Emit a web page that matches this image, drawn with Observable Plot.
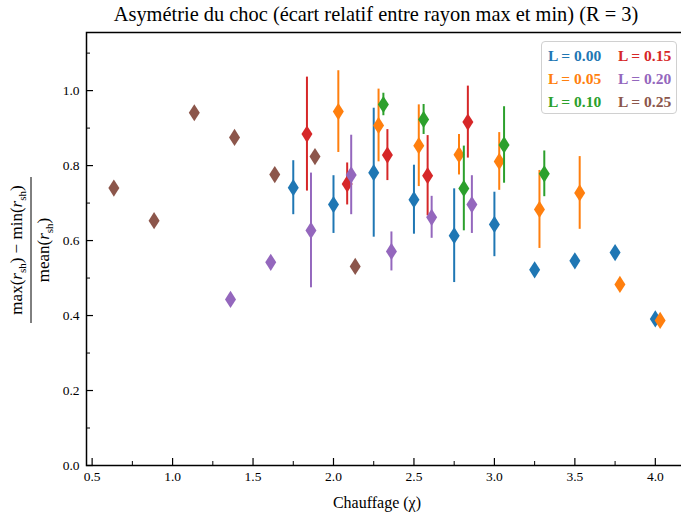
<!DOCTYPE html>
<html><head><meta charset="utf-8">
<script src="https://cdn.jsdelivr.net/npm/d3@7"></script>
<script src="https://cdn.jsdelivr.net/npm/@observablehq/plot@0.6"></script>
<style>
body{margin:0;background:#fff;}
#wrap{position:relative;width:681px;height:516px;overflow:hidden;font-family:"Liberation Serif",serif;background:#fff;}
#legend{position:absolute;left:541px;top:41px;width:136px;height:73px;border:1.5px solid #d0d0d0;border-radius:4px;background:rgba(255,255,255,0.85);
  display:grid;grid-template-columns:70px 66px;grid-template-rows:23px 23px 23px;padding:2px 0 0 0;box-sizing:border-box;}
#legend div{font-weight:bold;font-size:15.5px;line-height:23px;padding-left:6px;white-space:nowrap;}
</style></head><body><div id="wrap"></div>
<script>
// ---- data ----
const seriesLabels = ["L = 0.00","L = 0.05","L = 0.10","L = 0.15","L = 0.20","L = 0.25"];
const seriesColors = ["#1f77b4","#ff7f0e","#2ca02c","#d62728","#9467bd","#8c564b"];

const chi_L000 = [1.75, 2.00, 2.25, 2.50, 2.75, 3.00, 3.25, 3.50, 3.75, 4.00];
const val_L000 = [0.741, 0.696, 0.781, 0.709, 0.613, 0.643, 0.522, 0.546, 0.568, 0.391];
const err_L000 = [0.072, 0.077, 0.172, 0.092, 0.125, 0.086, 0, 0, 0, 0];

const chi_L005 = [2.03, 2.28, 2.53, 2.78, 3.03, 3.28, 3.53, 3.78, 4.03];
const val_L005 = [0.944, 0.907, 0.853, 0.829, 0.811, 0.683, 0.727, 0.483, 0.387];
const err_L005 = [0.109, 0.097, 0.109, 0.054, 0.077, 0.104, 0.097, 0, 0];

const chi_L010 = [2.31, 2.56, 2.81, 3.06, 3.31];
const val_L010 = [0.963, 0.923, 0.739, 0.855, 0.778];
const err_L010 = [0.03, 0.04, 0.113, 0.102, 0.061];

const chi_L015 = [1.835, 2.085, 2.335, 2.585, 2.835];
const val_L015 = [0.884, 0.751, 0.828, 0.773, 0.916];
const err_L015 = [0.152, 0.056, 0.068, 0.107, 0.096];

const chi_L020 = [1.36, 1.61, 1.86, 2.11, 2.36, 2.61, 2.86];
const val_L020 = [0.443, 0.542, 0.627, 0.775, 0.571, 0.662, 0.696];
const err_L020 = [0, 0, 0.153, 0.106, 0.052, 0.056, 0.077];

const chi_L025 = [0.635, 0.885, 1.135, 1.385, 1.635, 1.885, 2.135];
const val_L025 = [0.740, 0.653, 0.941, 0.875, 0.776, 0.824, 0.531];
const err_L025 = [0, 0, 0, 0, 0, 0, 0];

const xMajorTicks = [0.5, 1.0, 1.5, 2.0, 2.5, 3.0, 3.5, 4.0];
const xMinorTicks = [0.75, 1.25, 1.75, 2.25, 2.75, 3.25, 3.75];
const yMajorTicks = [0.0, 0.2, 0.4, 0.6, 0.8, 1.0];
const yMinorTicks = [0.1, 0.3, 0.5, 0.7, 0.9, 1.1];

const titleText = "Asymétrie du choc (écart relatif entre rayon max et min) (R = 3)";
const xLabelText = "Chauffage (χ)";

// ---- build ----
const allSeries = [
  [chi_L000, val_L000, err_L000],
  [chi_L005, val_L005, err_L005],
  [chi_L010, val_L010, err_L010],
  [chi_L015, val_L015, err_L015],
  [chi_L020, val_L020, err_L020],
  [chi_L025, val_L025, err_L025]
].map(([c, v, e], i) => c.map((chi, j) => ({s: i, chi, v: v[j], e: e[j]})));

const thinDiamond = {
  draw(ctx, size) {
    const r = Math.sqrt(size / Math.PI);
    const w = r * 0.64;
    ctx.moveTo(0, -r); ctx.lineTo(w, 0); ctx.lineTo(0, r); ctx.lineTo(-w, 0); ctx.closePath();
  }
};

const seriesMarks = allSeries.flatMap((rows, i) => [
  Plot.ruleX(rows.filter(d => d.e > 0), {x: "chi", y1: d => d.v - d.e, y2: d => d.v + d.e, stroke: seriesColors[i], strokeWidth: 2}),
  Plot.dot(rows, {x: "chi", y: "v", symbol: thinDiamond, r: 8.6, fill: seriesColors[i], stroke: "none"})
]);

const fmt = d3.format(".1f");
const chart = Plot.plot({
  width: 681, height: 516,
  marginLeft: 86, marginRight: -6, marginTop: 32, marginBottom: 51,
  x: {domain: [0.465, 4.2]},
  y: {domain: [0, 1.155]},
  style: {fontFamily: "Liberation Serif, serif", fontSize: "13.5px", background: "white", color: "black", overflow: "hidden"},
  marks: [
    ...seriesMarks,
    Plot.axisX(xMajorTicks, {tickSize: 0, tickPadding: 6, tickFormat: fmt, label: null}),
    Plot.axisX(xMajorTicks, {tickSize: -7, fill: "none", label: null, strokeWidth: 1.2}),
    Plot.axisX(xMinorTicks, {tickSize: -4, fill: "none", label: null, strokeWidth: 1}),
    Plot.axisY(yMajorTicks, {tickSize: 0, tickPadding: 7, tickFormat: fmt, label: null}),
    Plot.axisY(yMajorTicks, {tickSize: -7, fill: "none", label: null, strokeWidth: 1.2}),
    Plot.axisY(yMinorTicks, {tickSize: -4, fill: "none", label: null, strokeWidth: 1}),
    Plot.frame({stroke: "black", strokeWidth: 1.5})
  ]
});

const wrap = document.getElementById("wrap");
wrap.appendChild(chart);
const svg = d3.select(chart);

// title
svg.append("text").attr("x", 376).attr("y", 21).attr("text-anchor", "middle")
  .attr("font-family", "Liberation Serif, serif").attr("font-size", 20.4).attr("fill", "black").text(titleText);

// x label
svg.append("text").attr("x", 377).attr("y", 508).attr("text-anchor", "middle")
  .attr("font-family", "Liberation Serif, serif").attr("font-size", 16).attr("fill", "black").text(xLabelText);

// y label (fraction)
const g = svg.append("g").attr("transform", "translate(31,250) rotate(-90)")
  .attr("font-family", "Liberation Serif, serif").attr("font-size", 17).attr("fill", "black");
const num = g.append("text").attr("x", 0).attr("y", -9).attr("text-anchor", "middle");
const addR = (t) => { t.append("tspan").attr("font-style", "italic").text("r"); t.append("tspan").attr("font-size", 11).attr("dy", 4).text("sh"); t.append("tspan").attr("dy", -4).text(")"); };
num.append("tspan").text("max(");
addR(num);
num.append("tspan").text(" − min(");
addR(num);
g.append("line").attr("x1", -73).attr("x2", 73).attr("y1", 0).attr("y2", 0).attr("stroke", "black").attr("stroke-width", 1);
const den = g.append("text").attr("x", 0).attr("y", 18).attr("text-anchor", "middle");
den.append("tspan").text("mean(");
addR(den);

// legend
const leg = document.createElement("div");
leg.id = "legend";
const order = [0, 3, 1, 4, 2, 5];
order.forEach(i => {
  const d = document.createElement("div");
  d.textContent = seriesLabels[i];
  d.style.color = seriesColors[i];
  leg.appendChild(d);
});
wrap.appendChild(leg);
</script>
</body></html>
